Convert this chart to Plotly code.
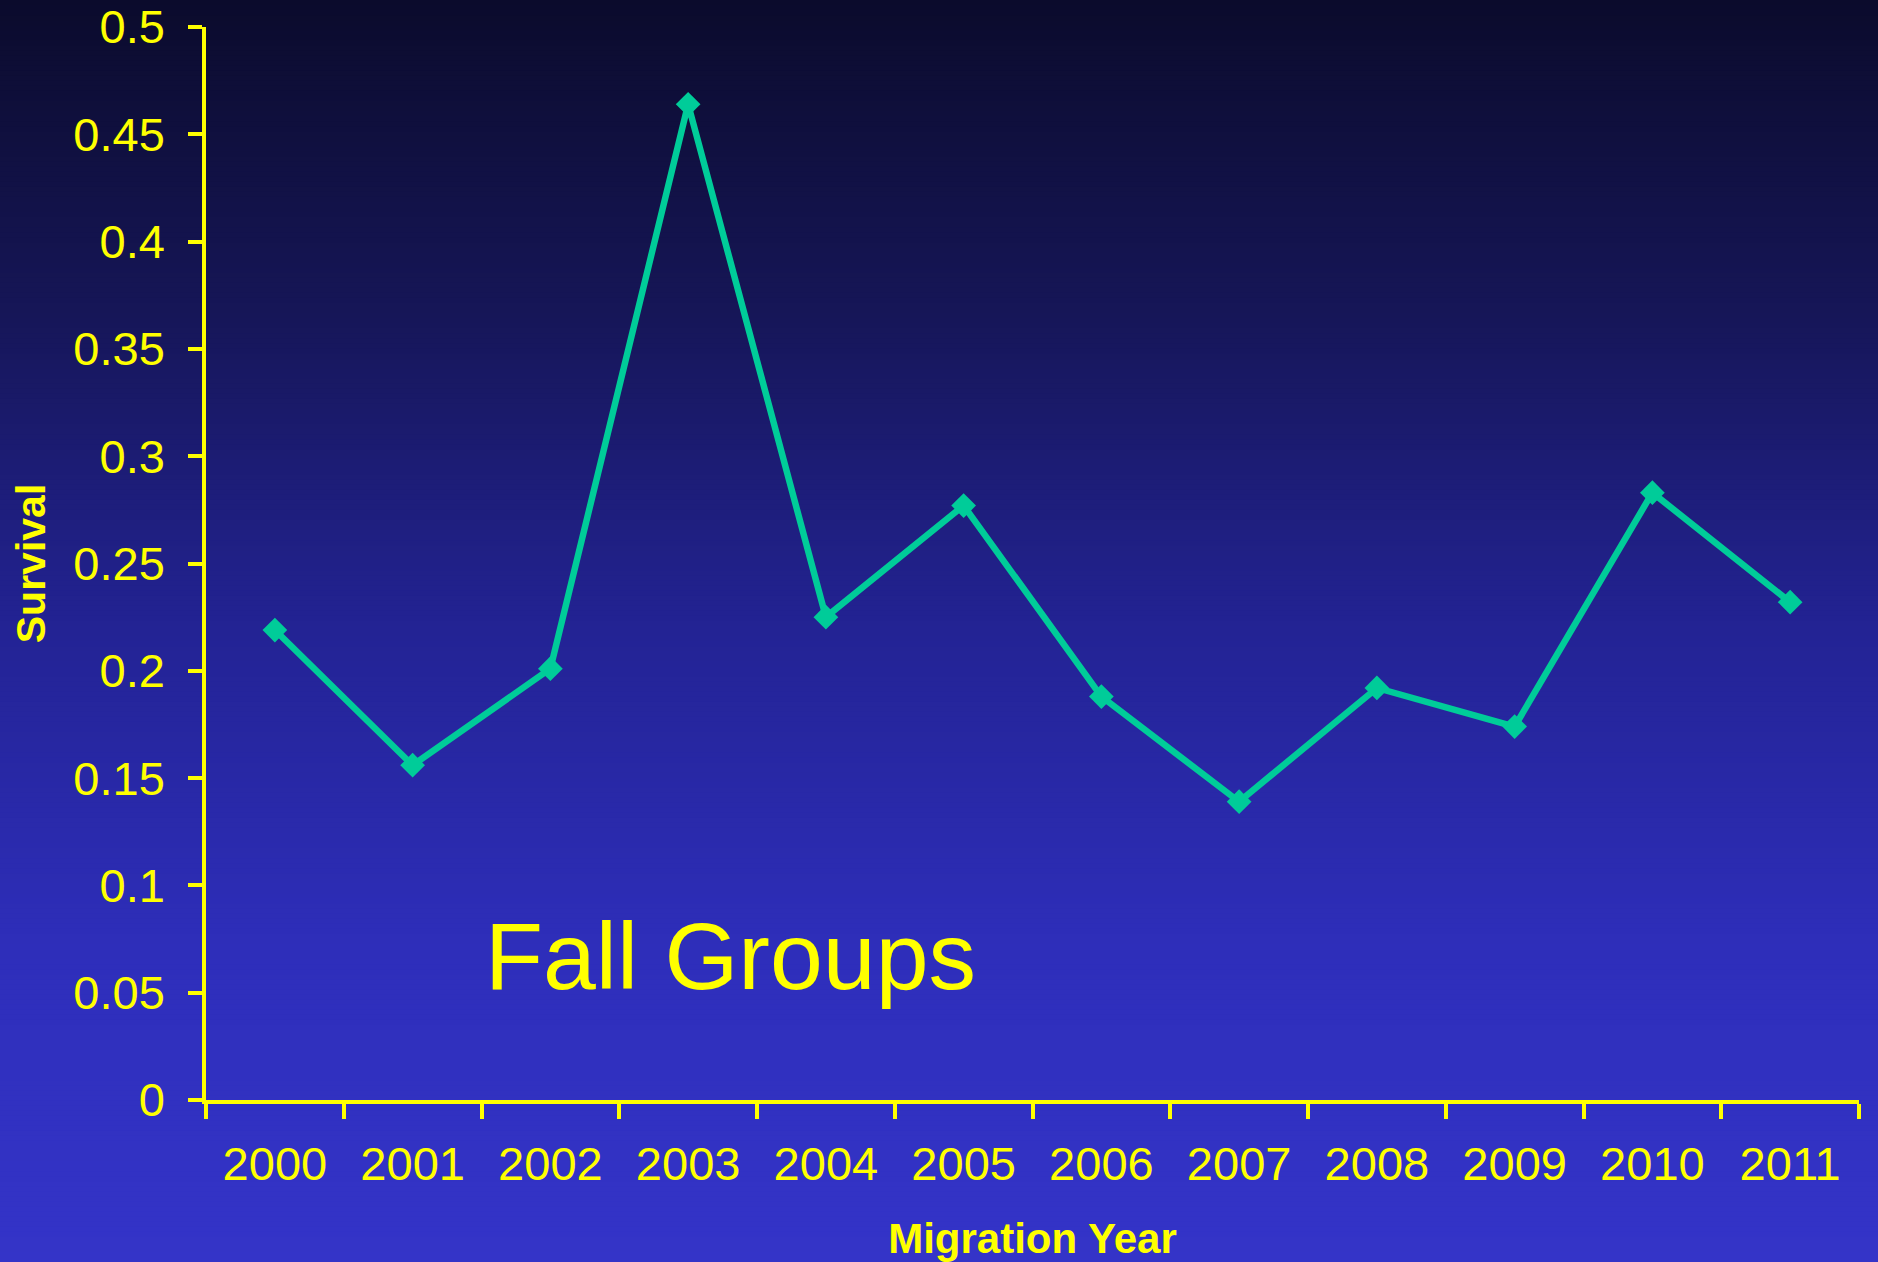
import plotly.graph_objects as go

# ---- data ----
years = ["2000", "2001", "2002", "2003", "2004", "2005",
         "2006", "2007", "2008", "2009", "2010", "2011"]
survival = [0.219, 0.156, 0.201, 0.464, 0.225, 0.277,
            0.188, 0.139, 0.192, 0.174, 0.283, 0.232]
y_tick_vals = [0, 0.05, 0.1, 0.15, 0.2, 0.25, 0.3, 0.35, 0.4, 0.45, 0.5]
y_tick_text = ["0", "0.05", "0.1", "0.15", "0.2", "0.25", "0.3", "0.35", "0.4", "0.45", "0.5"]

W, H = 1878, 1262
ML, MR, MT, MB = 206, 19, 27, 162
PW, PH = W - ML - MR, H - MT - MB

YELLOW = "#ffff00"
LINE = "#00cc99"
FONT = "Liberation Sans, Arial, sans-serif"

# background vertical gradient (top dark navy -> bottom blue)
stops = [(0.0, (11, 11, 44)), (0.25, (22, 22, 88)), (0.5, (35, 35, 148)),
         (0.75, (46, 46, 186)), (1.0, (52, 52, 200))]

def col_at(t):
    for (t0, c0), (t1, c1) in zip(stops[:-1], stops[1:]):
        if t <= t1:
            f = (t - t0) / (t1 - t0) if t1 > t0 else 0
            return tuple(round(a + (b - a) * f) for a, b in zip(c0, c1))
    return stops[-1][1]

shapes = []
N = 250
for i in range(N):
    py0 = H * i / N
    py1 = H * (i + 1) / N + 1
    c = col_at((i + 0.5) / N)
    shapes.append(dict(
        type="rect", xref="paper", yref="paper", layer="below",
        x0=-ML / PW, x1=1 + MR / PW,
        y0=(H - MB - py1) / PH, y1=(H - MB - py0) / PH,
        fillcolor="rgb(%d,%d,%d)" % c, line=dict(width=0)))

fig = go.Figure()
fig.add_trace(go.Scatter(
    x=years, y=survival, mode="lines+markers",
    line=dict(color=LINE, width=6.5),
    marker=dict(symbol="diamond", size=19, color=LINE),
    showlegend=False, cliponaxis=False))

fig.update_layout(
    width=W, height=H,
    margin=dict(l=ML, r=MR, t=MT, b=MB, autoexpand=False),
    paper_bgcolor="rgb(52,52,200)",
    plot_bgcolor="rgba(0,0,0,0)",
    shapes=shapes,
    font=dict(family=FONT, color=YELLOW),
    xaxis=dict(
        type="category", range=[-0.5, 11.5], tickson="boundaries",
        showgrid=False, zeroline=False,
        showline=True, linecolor=YELLOW, linewidth=3.5,
        ticks="outside", ticklen=15, tickwidth=3.5, tickcolor=YELLOW,
        tickfont=dict(size=47, color=YELLOW, family=FONT),
        ticklabelstandoff=20,
        title=dict(text="<b>Migration Year</b>", font=dict(size=42, color=YELLOW, family=FONT), standoff=35),
        automargin=False),
    yaxis=dict(
        range=[0, 0.5], tickvals=y_tick_vals, ticktext=y_tick_text,
        showgrid=False, zeroline=False,
        showline=True, linecolor=YELLOW, linewidth=3.5,
        ticks="outside", ticklen=14, tickwidth=3.5, tickcolor=YELLOW,
        tickfont=dict(size=47, color=YELLOW, family=FONT),
        ticklabelstandoff=14,
        title=dict(text="<b>Survival</b>", font=dict(size=41, color=YELLOW, family=FONT), standoff=16),
        automargin=False),
    annotations=[dict(
        text="Fall Groups", xref="paper", yref="paper",
        x=(483 - ML) / PW, y=(H - MB - 956) / PH,
        xanchor="left", yanchor="middle", showarrow=False,
        font=dict(size=95, color=YELLOW, family=FONT))],
)

fig.write_html(
    "out.html",
    config={"displayModeBar": False},
    post_script="document.body.style.margin='0';document.body.style.padding='0';"
                "document.documentElement.style.margin='0';",
)
